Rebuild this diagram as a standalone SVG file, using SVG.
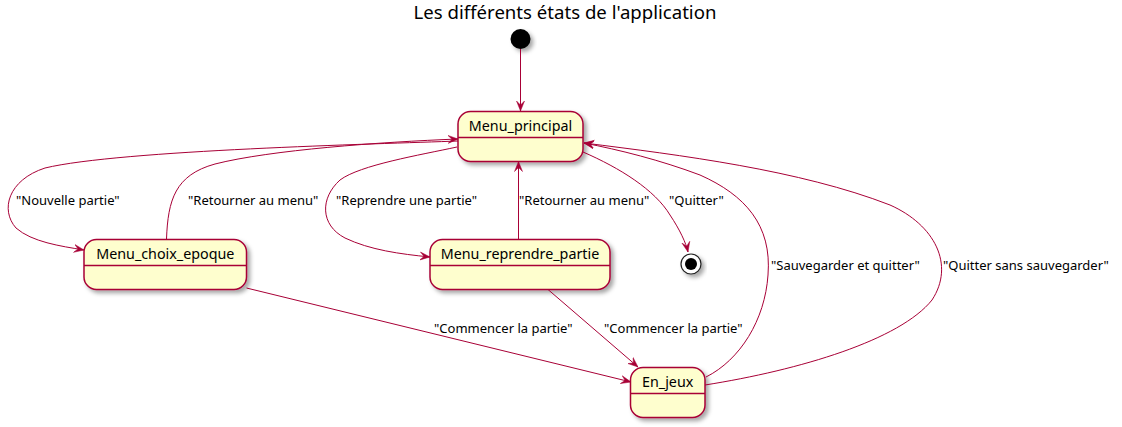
<svg xmlns="http://www.w3.org/2000/svg" width="1122" height="427" viewBox="0 0 1122 427">
<style>
.node{fill:#FEFECE;stroke:#A80036;stroke-width:1.5;}
.sep{stroke:#A80036;stroke-width:1.5;}
.ntxt{font-family:"Noto Sans",sans-serif;font-size:14.3px;fill:#000;text-anchor:middle;}
.lbl{font-family:"Noto Sans",sans-serif;font-size:13px;fill:#000;}
.edge{fill:none;stroke:#A80036;stroke-width:1;}
.title{font-family:"Noto Sans",sans-serif;font-size:18.6px;fill:#000;text-anchor:middle;}
</style>
<defs>
<filter id="sh" x="-20%" y="-20%" width="150%" height="160%">
<feDropShadow dx="3" dy="3" stdDeviation="2" flood-color="#000" flood-opacity="0.35"/>
</filter>
<marker id="ah" viewBox="0 0 10 10" markerWidth="10" markerHeight="10" refX="10" refY="5" orient="auto" markerUnits="userSpaceOnUse">
<path d="M0,1 L10,5 L0,9 L4,5 Z" fill="#A80036" stroke="#A80036" stroke-width="0.5"/>
</marker>
</defs>
<rect width="1122" height="427" fill="#fff"/>
<text class="title" x="565" y="19">Les différents états de l'application</text>

<g id="start">
<circle cx="520.5" cy="39" r="10" fill="#000" filter="url(#sh)"/>
</g>
<g id="end">
<circle cx="691" cy="264" r="10" fill="#fff" stroke="#222" stroke-width="1.2" filter="url(#sh)"/>
<circle cx="691" cy="264" r="6" fill="#000"/>
</g>
<g id="Menu_principal">
<rect class="node" x="458" y="111.5" width="125" height="50" rx="12.5" filter="url(#sh)"/>
<line class="sep" x1="458" y1="137.5" x2="583" y2="137.5"/>
<text class="ntxt" x="520.5" y="131">Menu_principal</text>
</g>
<g id="Menu_choix_epoque">
<rect class="node" x="84" y="239.5" width="162.5" height="50" rx="12.5" filter="url(#sh)"/>
<line class="sep" x1="84" y1="265.5" x2="246.5" y2="265.5"/>
<text class="ntxt" x="165.3" y="259">Menu_choix_epoque</text>
</g>
<g id="Menu_reprendre_partie">
<rect class="node" x="430" y="239.5" width="180" height="50" rx="12.5" filter="url(#sh)"/>
<line class="sep" x1="430" y1="265.5" x2="610" y2="265.5"/>
<text class="ntxt" x="520" y="259">Menu_reprendre_partie</text>
</g>
<g id="En_jeux">
<rect class="node" x="630.5" y="367.5" width="74.5" height="50" rx="12.5" filter="url(#sh)"/>
<line class="sep" x1="630.5" y1="393.5" x2="705" y2="393.5"/>
<text class="ntxt" x="667.7" y="387">En_jeux</text>
</g>

<g id="connectors">
<path class="edge" d="M520.5,49 L520.5,111" marker-end="url(#ah)"/>
<path class="edge" d="M458,141 C380,144 120,150 45,168 C8,180 0,210 16,228 C32,242 60,246 84,250" marker-end="url(#ah)"/>
<path class="edge" d="M166.5,239 C168,200 175,175 215,164 C270,150 380,142 458,139" marker-end="url(#ah)"/>
<path class="edge" d="M457,147 C420,155 360,165 340,180 C320,198 320,225 345,238 C370,250 400,254 430,257" marker-end="url(#ah)"/>
<path class="edge" d="M518.5,239 L518.5,161.5" marker-end="url(#ah)"/>
<path class="edge" d="M583,152 C620,168 655,190 670,215 C680,230 686,243 688,252" marker-end="url(#ah)"/>
<path class="edge" d="M246.5,288 L631,382" marker-end="url(#ah)"/>
<path class="edge" d="M548,289.5 L638,367" marker-end="url(#ah)"/>
<path class="edge" d="M706,377 C740,360 765,320 768,275 C772,225 745,195 700,175 C660,160 620,150 584,143" marker-end="url(#ah)"/>
<path class="edge" d="M705,385 C800,370 900,340 932,300 C955,265 935,225 890,205 C800,170 680,155 584,143" marker-end="url(#ah)"/>
<text class="lbl" x="16" y="205">"Nouvelle partie"</text>
<text class="lbl" x="188" y="205">"Retourner au menu"</text>
<text class="lbl" x="336" y="205">"Reprendre une partie"</text>
<text class="lbl" x="519" y="205">"Retourner au menu"</text>
<text class="lbl" x="669" y="205">"Quitter"</text>
<text class="lbl" x="434" y="333">"Commencer la partie"</text>
<text class="lbl" x="604" y="333">"Commencer la partie"</text>
<text class="lbl" x="771" y="270">"Sauvegarder et quitter"</text>
<text class="lbl" x="943" y="270">"Quitter sans sauvegarder"</text>
</g>
</svg>
